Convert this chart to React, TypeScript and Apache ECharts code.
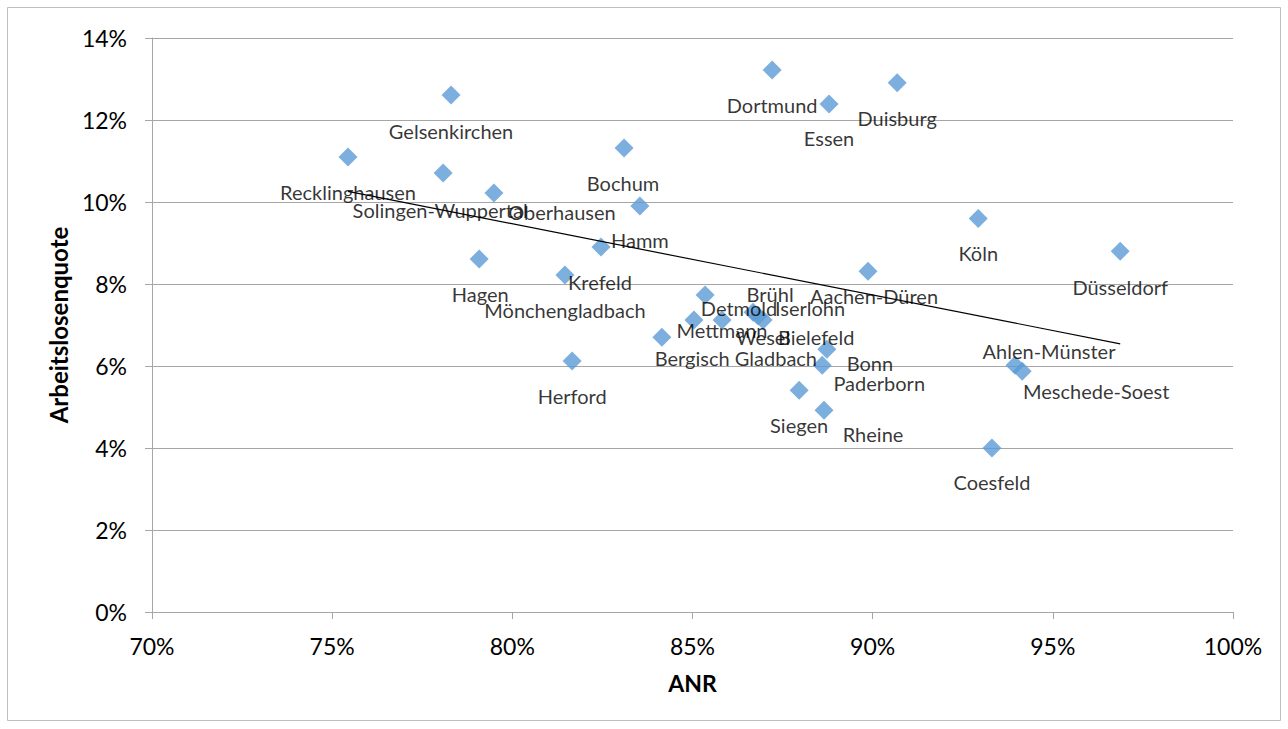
import React, { useEffect, useRef } from "react";
import * as echarts from "echarts";

// Arbeitsagentur districts: ANR (x, %) against unemployment rate (y, %)
const districts = [
  "Recklinghausen", "Gelsenkirchen", "Solingen-Wuppertal", "Oberhausen", "Bochum",
  "Hamm", "Krefeld", "Hagen", "Mönchengladbach", "Herford",
  "Bergisch Gladbach", "Mettmann", "Brühl", "Detmold", "Iserlohn",
  "Wesel", "Bielefeld", "Dortmund", "Essen", "Duisburg",
  "Aachen-Düren", "Köln", "Düsseldorf", "Bonn", "Paderborn",
  "Siegen", "Rheine", "Ahlen-Münster", "Meschede-Soest", "Coesfeld",
];

const anr = [
  75.44, 78.3, 78.08, 79.49, 83.1,
  83.54, 82.46, 79.08, 81.46, 81.66,
  84.15, 85.04, 85.35, 85.82, 86.68,
  86.82, 86.96, 87.21, 88.79, 90.68,
  89.87, 92.93, 96.87, 88.73, 88.6,
  87.96, 88.65, 93.95, 94.15, 93.31,
];

const quote = [
  11.1, 12.61, 10.71, 10.22, 11.32,
  9.9, 8.9, 8.61, 8.22, 6.12,
  6.7, 7.12, 7.73, 7.12, 7.31,
  7.22, 7.12, 13.22, 12.39, 12.91,
  8.31, 9.6, 8.8, 6.41, 6.02,
  5.41, 4.92, 6.02, 5.87, 4.0,
];

const xTicks = { min: 70, max: 100, step: 5 };
const yTicks = { min: 0, max: 14, step: 2 };

// label placement relative to each marker, in pixels
const labelShift: [number, number][] = [
  [0, 35], [0, 36], [-3, 37], [68, 19], [-1, 35],
  [0, 34], [-1, 35], [1, 35], [0, 35], [0, 35],
  [74, 21], [28, 10], [65, -1], [17, -12], [57, -4],
  [5, 21], [53, 17], [0, 35], [0, 34], [0, 35],
  [6, 25], [0, 35], [0, 36], [43, 14], [57, 18],
  [0, 35], [49, 24], [34, -14], [74, 20], [0, 34],
];

// least-squares linear trend over the points
function linearTrend(xs: number[], ys: number[]) {
  const n = xs.length;
  const mx = xs.reduce((a, b) => a + b, 0) / n;
  const my = ys.reduce((a, b) => a + b, 0) / n;
  let sxy = 0;
  let sxx = 0;
  for (let i = 0; i < n; i++) {
    sxy += (xs[i] - mx) * (ys[i] - my);
    sxx += (xs[i] - mx) * (xs[i] - mx);
  }
  const slope = sxy / sxx;
  const intercept = my - slope * mx;
  const x0 = Math.min(...xs);
  const x1 = Math.max(...xs);
  return [
    [x0, intercept + slope * x0],
    [x1, intercept + slope * x1],
  ];
}

const FONT = "Lato, 'Noto Sans', sans-serif";

export default function App() {
  const ref = useRef<HTMLDivElement>(null);

  useEffect(() => {
    if (!ref.current) return;
    const chart = echarts.init(ref.current, undefined, { renderer: "svg" });

    const points = districts.map((name, i) => ({
      name,
      value: [anr[i], quote[i]],
      label: { offset: labelShift[i] },
    }));

    chart.setOption({
      animation: false,
      backgroundColor: "#ffffff",
      textStyle: { fontFamily: FONT },
      graphic: [
        {
          type: "rect",
          shape: { x: 7.5, y: 7.5, width: 1273, height: 713 },
          style: { fill: "none", stroke: "#BFBFBF", lineWidth: 1 },
          silent: true,
        },
      ],
      grid: { left: 152, right: 55, top: 38, bottom: 117 },
      xAxis: {
        type: "value",
        min: xTicks.min,
        max: xTicks.max,
        interval: xTicks.step,
        name: "ANR",
        nameLocation: "middle",
        nameGap: 59,
        nameTextStyle: { fontFamily: FONT, fontSize: 23, fontWeight: "bold", color: "#000" },
        axisLine: { show: true, lineStyle: { color: "#A6A6A6", width: 1 } },
        axisTick: { show: true, length: 7, lineStyle: { color: "#A6A6A6" } },
        splitLine: { show: false },
        axisLabel: {
          fontFamily: FONT,
          fontSize: 23,
          color: "#000",
          margin: 22,
          formatter: "{value}%",
        },
      },
      yAxis: {
        type: "value",
        min: yTicks.min,
        max: yTicks.max,
        interval: yTicks.step,
        name: "Arbeitslosenquote",
        nameLocation: "middle",
        nameGap: 80,
        nameRotate: 90,
        nameTextStyle: { fontFamily: FONT, fontSize: 24, fontWeight: "bold", color: "#000" },
        axisLine: { show: true, lineStyle: { color: "#A6A6A6", width: 1 } },
        axisTick: { show: true, length: 7, lineStyle: { color: "#A6A6A6" } },
        splitLine: { show: true, lineStyle: { color: "#A6A6A6", width: 1 } },
        axisLabel: {
          fontFamily: FONT,
          fontSize: 23,
          color: "#000",
          margin: 25,
          formatter: "{value}%",
        },
      },
      series: [
        {
          type: "scatter",
          symbol: "diamond",
          symbolSize: 19,
          itemStyle: { color: "#5B9BD5" },
          data: points,
          z: 2,
          label: {
            show: true,
            position: "inside",
            formatter: "{b}",
            fontFamily: FONT,
            fontSize: 20,
            color: "#000",
          },
        },
        {
          type: "line",
          data: linearTrend(anr, quote),
          symbol: "none",
          lineStyle: { color: "#000", width: 1.2 },
          z: 3,
          silent: true,
        },
      ],
    });

    return () => chart.dispose();
  }, []);

  return (
    <div
      ref={ref}
      style={{ position: "fixed", left: 0, top: 0, width: 1288, height: 729 }}
    />
  );
}
